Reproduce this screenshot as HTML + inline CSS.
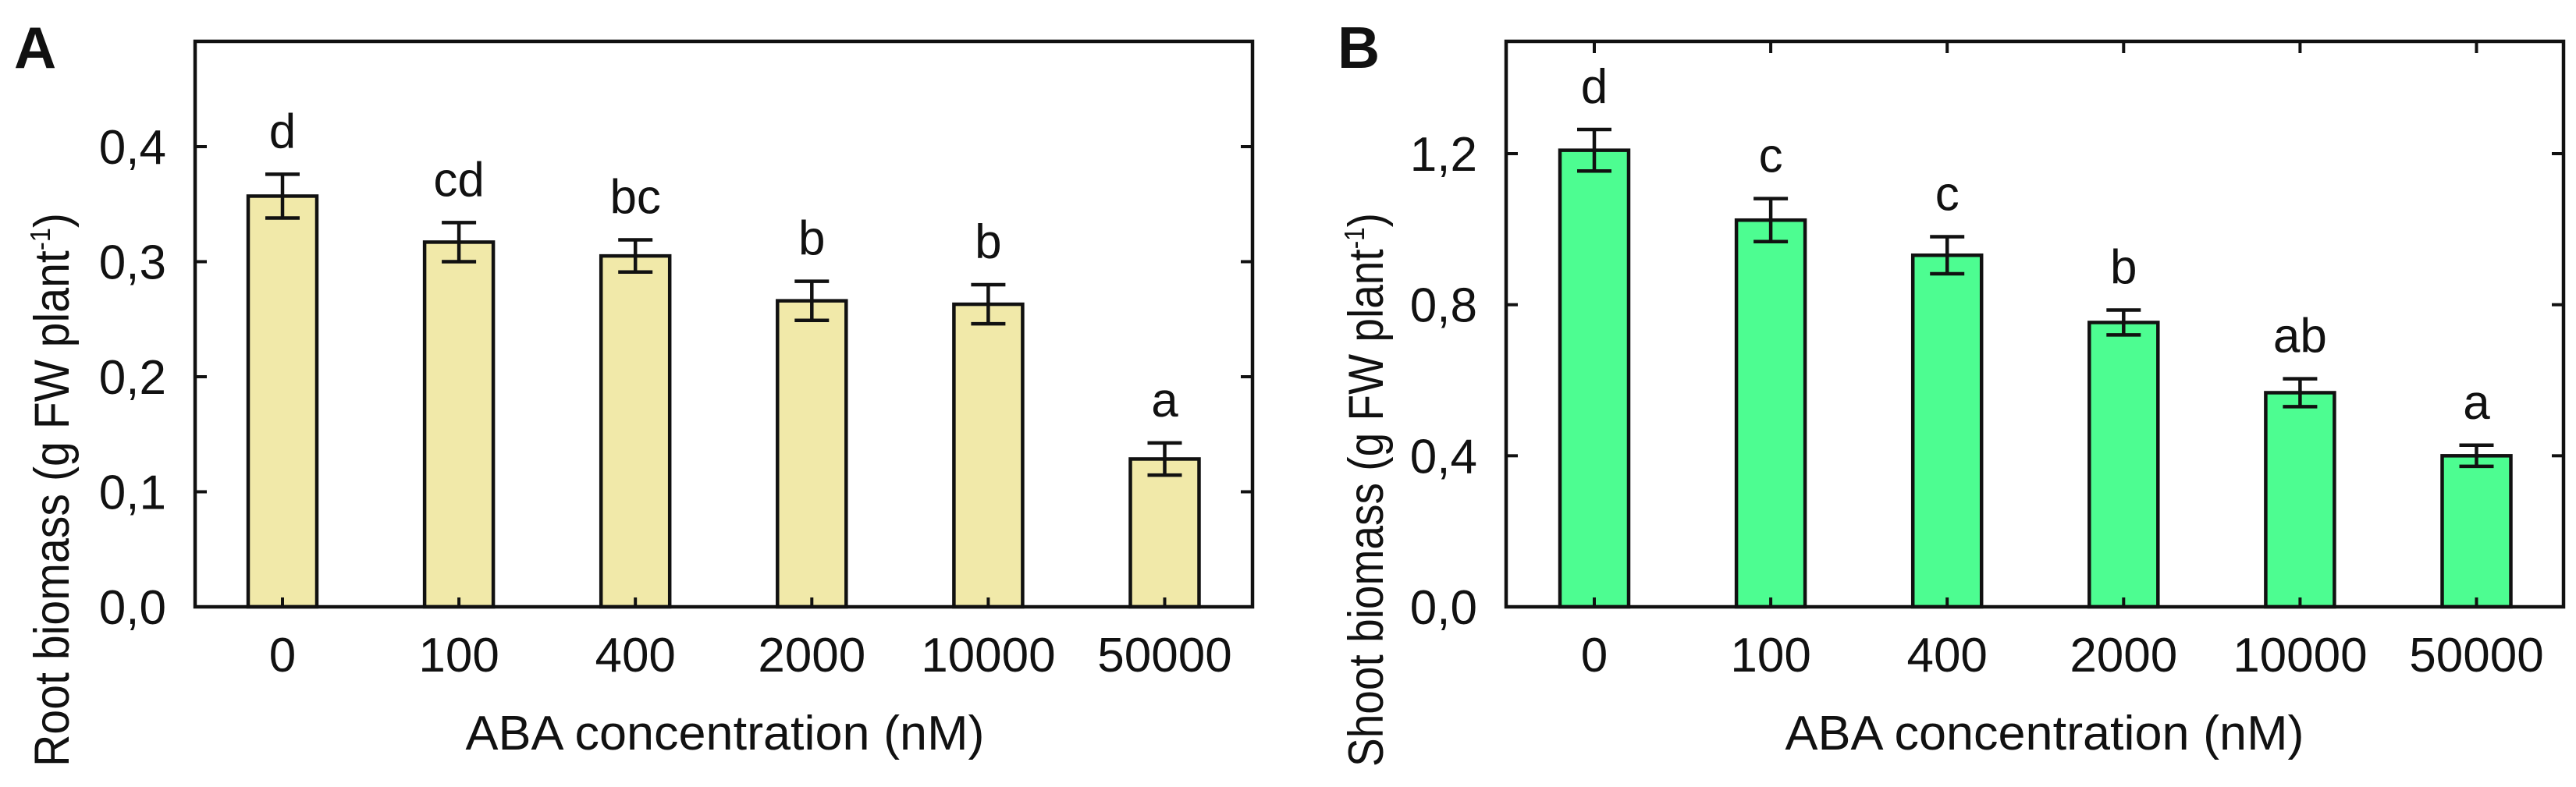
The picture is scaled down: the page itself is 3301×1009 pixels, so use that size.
<!DOCTYPE html>
<html><head><meta charset="utf-8">
<style>
html,body{margin:0;padding:0;background:#fff;}
svg{display:block;font-family:"Liberation Sans",Arial,sans-serif;}
</style></head>
<body>
<svg id="fig" width="3301" height="1009" viewBox="0 0 3301 1009" xmlns="http://www.w3.org/2000/svg"></svg>
<script>
const categories = ["0","100","400","2000","10000","50000"];
const rootValues = [0.357, 0.317, 0.305, 0.266, 0.263, 0.1285];
const rootErrors = [0.019, 0.017, 0.014, 0.017, 0.017, 0.014];
const rootLetters = ["d","cd","bc","b","b","a"];
const rootTicks = [0, 0.1, 0.2, 0.3, 0.4];
const rootTickLabels = ["0,0","0,1","0,2","0,3","0,4"];
const shootValues = [1.209, 1.024, 0.931, 0.753, 0.567, 0.400];
const shootErrors = [0.055, 0.057, 0.049, 0.033, 0.037, 0.028];
const shootLetters = ["d","c","c","b","ab","a"];
const shootTicks = [0, 0.4, 0.8, 1.2];
const shootTickLabels = ["0,0","0,4","0,8","1,2"];

const NS = "http://www.w3.org/2000/svg";
const svg = document.getElementById("fig");
function mk(tag, attrs, parent){
  const e = document.createElementNS(NS, tag);
  for (const k in attrs) e.setAttribute(k, attrs[k]);
  (parent||svg).appendChild(e);
  return e;
}
const INK = "#111";

function panel(opt){
  const g = mk("g", {});
  
  
  const L=opt.left, R=opt.right, T=53, B=778;
  const y = v => B - v/opt.ymax*(B - opt.ymaxPx);
  const x = i => opt.x0 + i*226.1;
  opt.values.forEach((v,i)=>{
    const r = mk("rect",{x:x(i)-44, y:y(v), width:88, height:B-y(v), fill:opt.color, stroke:INK, "stroke-width":4.5}, g);
    
    
    const e = opt.errors[i];
    const eg = mk("g",{stroke:INK,"stroke-width":4.5}, g);
    
    
    mk("line",{x1:x(i),x2:x(i),y1:y(v+e),y2:y(v-e)},eg);
    mk("line",{x1:x(i)-22,x2:x(i)+22,y1:y(v+e),y2:y(v+e)},eg);
    mk("line",{x1:x(i)-22,x2:x(i)+22,y1:y(v-e),y2:y(v-e)},eg);
    const t = mk("text",{x:x(i), y:y(v+e)-34, "text-anchor":"middle", "font-size":62, fill:INK}, g);
    t.textContent = opt.letters[i];
    
    
    const xl = mk("text",{x:x(i), y:861, "text-anchor":"middle", "font-size":62, fill:INK}, g);
    xl.textContent = categories[i];
    
    
    mk("line",{x1:x(i),x2:x(i),y1:B,y2:B-12,stroke:INK,"stroke-width":4},g);
    if (opt.topTicks) mk("line",{x1:x(i),x2:x(i),y1:T,y2:T+15,stroke:INK,"stroke-width":4},g);
  });
  const f = mk("rect",{x:L,y:T,width:R-L,height:B-T,fill:"none",stroke:INK,"stroke-width":4.5},g);
  
  
  opt.ticks.forEach((v,i)=>{
    mk("line",{x1:L,x2:L+15,y1:y(v),y2:y(v),stroke:INK,"stroke-width":4},g);
    mk("line",{x1:R,x2:R-15,y1:y(v),y2:y(v),stroke:INK,"stroke-width":4},g);
    const t = mk("text",{x:L-37,y:y(v)+22,"text-anchor":"end","font-size":62,fill:INK},g);
    t.textContent = opt.tickLabels[i];
    
    
  });
  const xt = mk("text",{x:opt.xTitleX,y:961,"text-anchor":"middle","font-size":62,fill:INK,textLength:665,lengthAdjust:"spacingAndGlyphs"},g);
  xt.textContent = "ABA concentration (nM)";
  
  
  const yt = mk("text",{transform:`translate(${opt.yTitleX},${opt.yTitleY}) rotate(-90)`,x:-356,"font-size":63,fill:INK,textLength:710,lengthAdjust:"spacingAndGlyphs"},g);
  
  
  yt.appendChild(document.createTextNode(opt.yTitle+" (g FW plant"));
  const sup = mk("tspan",{"font-size":36,dy:-24},yt); sup.textContent="-1";
  const cl = mk("tspan",{dy:24},yt); cl.textContent=")";
  const pl = mk("text",{x:opt.labelX,y:87,"font-size":75,"font-weight":"bold",fill:INK},g);
  pl.textContent = opt.label;
  
  
}

panel({name:"root-biomass-chart",label:"A",labelX:18,left:250,right:1605,x0:362,ymax:0.4,ymaxPx:188,
  values:rootValues,errors:rootErrors,letters:rootLetters,ticks:rootTicks,tickLabels:rootTickLabels,
  color:"#F1E9A9",xTitleX:929,yTitleX:88,yTitleY:627,yTitle:"Root biomass",topTicks:false});
panel({name:"shoot-biomass-chart",label:"B",labelX:1714,left:1930,right:3285,x0:2043,ymax:1.2,ymaxPx:197,
  values:shootValues,errors:shootErrors,letters:shootLetters,ticks:shootTicks,tickLabels:shootTickLabels,
  color:"#4DFD91",xTitleX:2620,yTitleX:1772,yTitleY:627,yTitle:"Shoot biomass",topTicks:true});
</script>
</body></html>
